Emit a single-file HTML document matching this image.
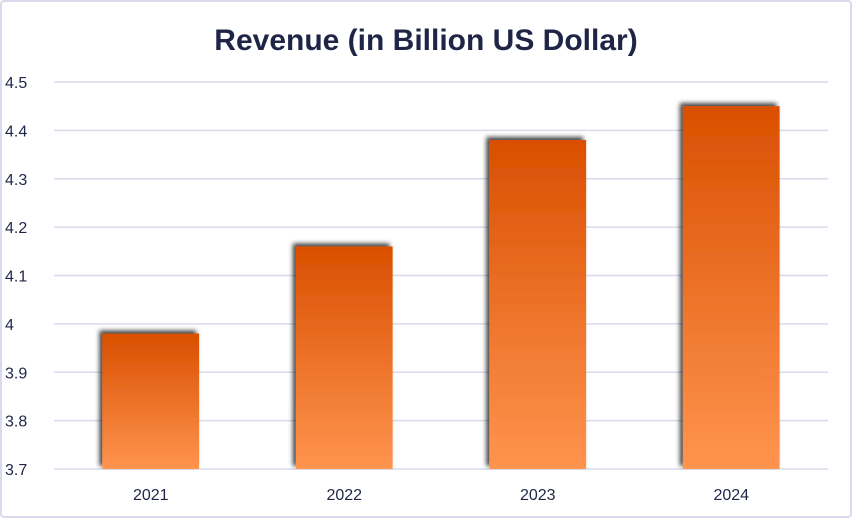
<!DOCTYPE html>
<html><head><meta charset="utf-8"><style>
html,body{margin:0;padding:0;background:#fff;}
svg{display:block;font-family:"Liberation Sans",sans-serif;}
</style></head><body>
<svg id="chart" width="852" height="518" viewBox="0 0 852 518">
<defs>
<linearGradient id="barGrad" x1="0" y1="0" x2="0" y2="1">
<stop offset="0" stop-color="#d94f00"/><stop offset="1" stop-color="#ff944f"/>
</linearGradient>
<filter id="shadow" x="-20%" y="-20%" width="140%" height="140%">
<feGaussianBlur in="SourceAlpha" stdDeviation="2.5"/>
<feOffset dx="-3" dy="-3" result="b"/>
<feComponentTransfer><feFuncA type="linear" slope="0.75"/></feComponentTransfer>
<feMerge><feMergeNode/><feMergeNode in="SourceGraphic"/></feMerge>
</filter>
</defs>
<rect x="1" y="1" width="850" height="516" rx="3" fill="#fff" stroke="#d9dbec" stroke-width="2"/>
<text x="426" y="50" text-anchor="middle" font-size="30" font-weight="bold" fill="#1f2547">Revenue (in Billion US Dollar)</text>
<g id="grid"></g><g id="bars"></g><g id="labels"></g>
</svg>
<script>
const categories = ["2021","2022","2023","2024"];
const revenue = [3.98,4.16,4.38,4.45];
const yTicks = [3.7,3.8,3.9,4,4.1,4.2,4.3,4.4,4.5];
const yTickLabels = ["3.7","3.8","3.9","4","4.1","4.2","4.3","4.4","4.5"];
const NS="http://www.w3.org/2000/svg";
const plotLeft=54,plotRight=828,plotTop=82,plotBottom=469,yMin=3.7,yMax=4.5;
const yScale=v=>plotBottom-(v-yMin)/(yMax-yMin)*(plotBottom-plotTop);
const band=(plotRight-plotLeft)/categories.length;
const xScale=i=>plotLeft+band*i+band/2;
function mk(t,a,p){const e=document.createElementNS(NS,t);for(const k in a)e.setAttribute(k,a[k]);p.appendChild(e);return e;}
const gridG=document.getElementById('grid'),barsG=document.getElementById('bars'),labelsG=document.getElementById('labels');
yTicks.forEach((v,i)=>{
 const l=mk('line',{x1:plotLeft,x2:plotRight,y1:yScale(v),y2:yScale(v),stroke:'#d9dbec','stroke-width':1.5},gridG);
 
 
 const t=mk('text',{x:5,y:yScale(v)+6,'font-size':16,fill:'#1f2547'},labelsG);
 t.textContent=yTickLabels[i];
 
 
});
const bw=band*0.5;
categories.forEach((c,i)=>{
 const r=mk('rect',{x:xScale(i)-bw/2,y:yScale(revenue[i]),width:bw,height:plotBottom-yScale(revenue[i]),fill:'url(#barGrad)',filter:'url(#shadow)'},barsG);
 
 
 const t=mk('text',{x:xScale(i),y:500,'text-anchor':'middle','font-size':16,fill:'#1f2547'},labelsG);
 t.textContent=c;
 
 
});
</script>
</body></html>
